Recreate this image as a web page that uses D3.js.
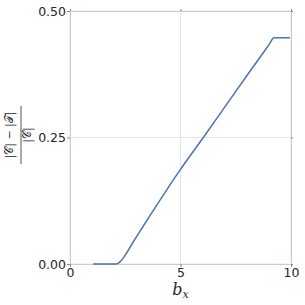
<!DOCTYPE html>
<html>
<head>
<meta charset="utf-8">
<script src="https://cdn.jsdelivr.net/npm/d3@7"></script>
<style>
  body { margin: 0; background: #fff; }
  svg { display: block; }
  .tick text { font-family: "DejaVu Sans", sans-serif; font-size: 12.5px; fill: #262626; }
</style>
</head>
<body>
<div id="graph"></div>
<script>
const bx = [1.05, 1.5, 2.0, 2.08, 2.3, 2.55, 2.85, 3.2, 5.0, 6.0, 7.0, 8.0, 9.0, 9.23, 9.95];
const ratio = [0, 0, 0, 0, 0.006, 0.021, 0.043, 0.067, 0.187, 0.248, 0.310, 0.372, 0.433, 0.447, 0.447];
const xTicks = [0, 5, 10];
const yTicks = [0, 0.25, 0.5];

const margin = {top: 11, right: 14, bottom: 41, left: 70},
	width = 305 - margin.left - margin.right,
	height = 305 - margin.top - margin.bottom;

const data = bx.map((d, i) => ({x: d, y: ratio[i]}));

const xScale = d3.scaleLinear().domain([0, 10]).range([0, width]);
const yScale = d3.scaleLinear().domain([0, 0.5]).range([height, 0]);

const svg = d3.select("#graph")
	.append("svg")
	.attr("width", 305)
	.attr("height", 305);

const g = svg.append("g")
	.attr("transform", "translate(" + margin.left + "," + margin.top + ")");

// grid
g.selectAll(".gx").data(xTicks).enter().append("line")
	.attr("x1", d => xScale(d)).attr("x2", d => xScale(d))
	.attr("y1", 0).attr("y2", height)
	.attr("stroke", "#e5e5e5").attr("stroke-width", 1);
g.selectAll(".gy").data(yTicks).enter().append("line")
	.attr("x1", 0).attr("x2", width)
	.attr("y1", d => yScale(d)).attr("y2", d => yScale(d))
	.attr("stroke", "#e5e5e5").attr("stroke-width", 1);

function styleAxis(sel) {
	sel.select(".domain").attr("stroke", "#cccccc");
	sel.selectAll(".tick line").attr("stroke", "#888888");
}

g.append("g")
	.attr("transform", "translate(0," + height + ")")
	.call(d3.axisBottom(xScale).tickValues(xTicks).tickSize(3).tickSizeOuter(0).tickPadding(1))
	.call(styleAxis);
g.append("g")
	.call(d3.axisTop(xScale).tickValues(xTicks).tickSize(2).tickSizeOuter(0).tickFormat(""))
	.call(styleAxis);
g.append("g")
	.call(d3.axisLeft(yScale).tickValues(yTicks).tickSize(3).tickSizeOuter(0).tickPadding(1)
		.tickFormat(d3.format(".2f")))
	.call(styleAxis);
g.append("g")
	.attr("transform", "translate(" + width + ",0)")
	.call(d3.axisRight(yScale).tickValues(yTicks).tickSize(2).tickSizeOuter(0).tickFormat(""))
	.call(styleAxis);

const line = d3.line()
	.x(d => xScale(d.x))
	.y(d => yScale(d.y))
	.curve(d3.curveMonotoneX);

g.append("path")
	.datum(data)
	.attr("fill", "none")
	.attr("stroke", "#4c72b0")
	.attr("stroke-width", 1.5)
	.attr("d", line);

// x label
const xl = svg.append("text")
	.attr("x", margin.left + width / 2)
	.attr("y", 295)
	.attr("text-anchor", "middle")
	.attr("font-family", "DejaVu Serif, serif")
	.attr("font-style", "italic")
	.attr("font-size", 16)
	.attr("fill", "#262626");
xl.append("tspan").text("b");
xl.append("tspan").attr("font-size", 11).attr("dy", 3).text("x");

// y label: fraction
const yl = svg.append("g")
	.attr("transform", "translate(19,135) rotate(-90)")
	.attr("font-family", "DejaVu Serif, serif")
	.attr("fill", "#262626");
yl.append("text")
	.attr("x", 0).attr("y", -6)
	.attr("text-anchor", "middle")
	.attr("font-size", 11)
	.text("|𝒞| − |𝒯|");
yl.append("line")
	.attr("x1", -29).attr("x2", 29)
	.attr("y1", 2).attr("y2", 2)
	.attr("stroke", "#262626").attr("stroke-width", 0.8);
yl.append("text")
	.attr("x", 0).attr("y", 12)
	.attr("text-anchor", "middle")
	.attr("font-size", 11)
	.text("|𝒞|");
</script>
</body>
</html>
